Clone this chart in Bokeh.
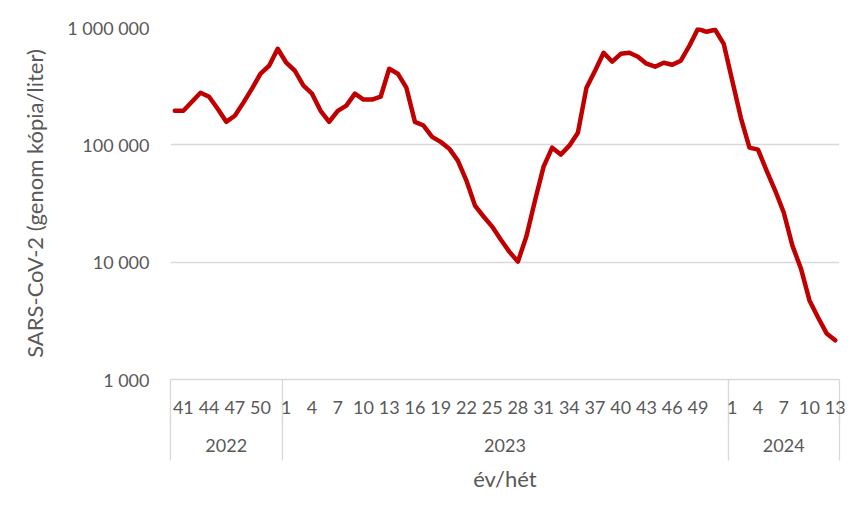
from bokeh.plotting import figure
from bokeh.models import LinearAxis, FixedTicker, Range1d
from bokeh.embed import file_html
from bokeh.resources import INLINE

# ---- data ----
years = ["2022", "2023", "2024"]
weeks_2022 = [40, 41, 42, 43, 44, 45, 46, 47, 48, 49, 50, 51, 52]
weeks_2023 = list(range(1, 53))
weeks_2024 = list(range(1, 14))

values_2022 = [195000, 195000, 233000, 278000, 257000, 203000, 157000, 177000,
               229000, 301000, 404000, 472000, 659000]
values_2023 = [501000, 428000, 319000, 273000, 195000, 157000, 195000, 216000,
               273000, 243000, 243000, 257000, 445000, 404000, 307000, 157000,
               146000, 117000, 106000, 92800, 73400, 49600, 30400, 24500,
               20100, 15600, 12300, 10100, 16600, 33500, 65200, 94600,
               82600, 98400, 127000, 307000, 428000, 609000, 511000, 597000,
               609000, 563000, 491000, 463000, 501000, 481000, 521000, 699000,
               975000, 919000, 956000, 726000]
values_2024 = [352000, 170000, 94600, 91000, 60300, 40800, 26500, 13900,
               8840, 4720, 3380, 2470, 2160]

label_weeks_2022 = [41, 44, 47, 50]
label_weeks_2023 = [1, 4, 7, 10, 13, 16, 19, 22, 25, 28, 31, 34, 37, 40, 43, 46, 49]
label_weeks_2024 = [1, 4, 7, 10, 13]

y_ticks = [1000, 10000, 100000, 1000000]
y_tick_labels = ["1 000", "10 000", "100 000", "1 000 000"]

y_title = "SARS-CoV-2 (genom kópia/liter)"
x_title = "év/hét"

# ---- build category positions ----
groups = [(weeks_2022, values_2022, label_weeks_2022),
          (weeks_2023, values_2023, label_weeks_2023),
          (weeks_2024, values_2024, label_weeks_2024)]
xs, ys = [], []
label_pos, label_txt = [], []
bounds = [-0.5]
centers = []
offset = 0
for weeks, vals, lab in groups:
    for j, (w, v) in enumerate(zip(weeks, vals)):
        xs.append(offset + j)
        ys.append(v)
        if w in lab:
            label_pos.append(offset + j)
            label_txt.append(str(w))
    centers.append(offset - 0.5 + len(weeks) / 2.0)
    offset += len(weeks)
    bounds.append(offset - 0.5)

FONT = "Lato"
TXT = "#595959"
GRID = "#d9d9d9"
FS = "18px"
TFS = "22px"

p = figure(width=851, height=500, output_backend="svg", toolbar_location=None,
           y_axis_type="log", x_axis_location=None,
           x_range=Range1d(-0.5, offset - 0.5), y_range=Range1d(1000, 1000000),
           min_border_left=170, min_border_right=12, min_border_top=27,
           min_border_bottom=121)
p.outline_line_color = None
p.background_fill_color = "white"
p.border_fill_color = "white"

p.line(xs, ys, line_color="#c00000", line_width=4.5,
       line_join="round", line_cap="round")

yax = p.yaxis[0]
yax.ticker = FixedTicker(ticks=y_ticks, minor_ticks=[])
yax.major_label_overrides = {t: s for t, s in zip(y_ticks, y_tick_labels)}
yax.axis_line_color = None
yax.major_tick_line_color = None
yax.minor_tick_line_color = None
yax.major_label_standoff = 15
yax.major_label_text_font = FONT
yax.major_label_text_font_size = FS
yax.major_label_text_color = TXT
yax.axis_label = y_title
yax.axis_label_text_font = FONT
yax.axis_label_text_font_size = TFS
yax.axis_label_text_font_style = "normal"
yax.axis_label_text_color = TXT
yax.axis_label_standoff = 16

for g in p.ygrid:
    g.grid_line_color = GRID
    g.grid_line_width = 1.3
for g in p.xgrid:
    g.visible = False

axA = LinearAxis(
    ticker=FixedTicker(ticks=label_pos, minor_ticks=bounds),
    major_label_overrides={pos: t for pos, t in zip(label_pos, label_txt)},
    axis_line_color=GRID, axis_line_width=1.3,
    major_tick_line_color=None, major_tick_in=0, major_tick_out=0,
    minor_tick_line_color=GRID, minor_tick_line_width=1.3,
    minor_tick_in=0, minor_tick_out=42,
    major_label_standoff=-21,
    major_label_text_font=FONT, major_label_text_font_size=FS,
    major_label_text_color=TXT,
)
p.add_layout(axA, "below")

axB = LinearAxis(
    ticker=FixedTicker(ticks=centers, minor_ticks=bounds),
    major_label_overrides={c: y for c, y in zip(centers, years)},
    axis_line_color=None,
    major_tick_line_color=None, major_tick_in=0, major_tick_out=0,
    minor_tick_line_color=GRID, minor_tick_line_width=1.3,
    minor_tick_in=0, minor_tick_out=44,
    major_label_standoff=-22,
    major_label_text_font=FONT, major_label_text_font_size=FS,
    major_label_text_color=TXT,
    axis_label=x_title, axis_label_standoff=10,
    axis_label_text_font=FONT, axis_label_text_font_size=TFS,
    axis_label_text_font_style="normal", axis_label_text_color=TXT,
)
p.add_layout(axB, "below")

open("out.html", "w").write(file_html(p, INLINE))
